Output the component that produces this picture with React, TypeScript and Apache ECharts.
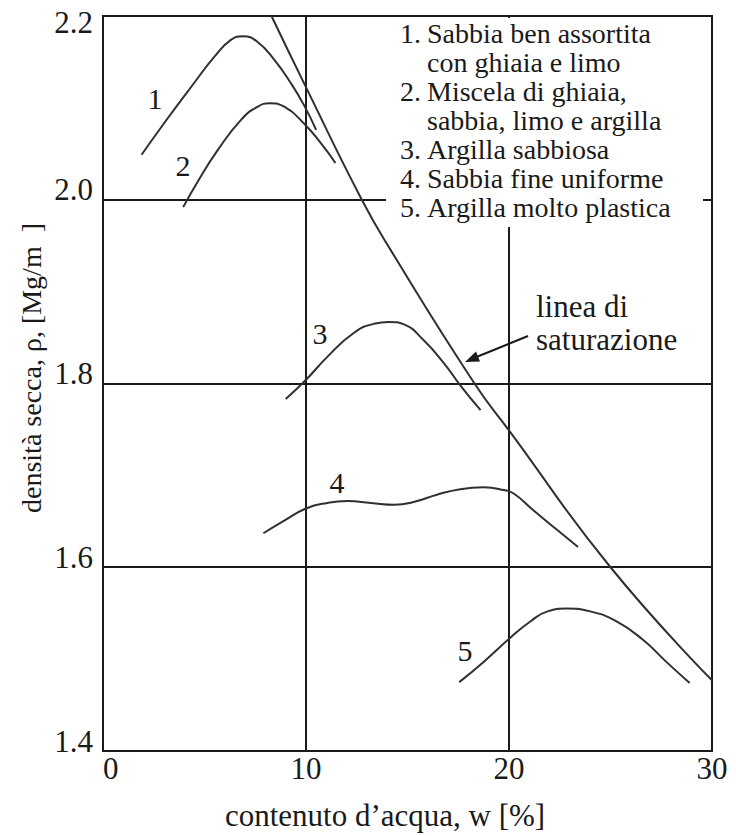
import React, { useEffect, useRef } from "react";
import * as echarts from "echarts";

// Compaction curves: water content w [%] and dry density ρd [Mg/m³]
const w1 = [1.9, 3.0, 4.35, 5.5, 6.3, 6.9, 7.6, 8.45, 9.25, 9.9, 10.5];
const rho1 = [2.049, 2.083, 2.123, 2.156, 2.174, 2.178, 2.172, 2.152, 2.127, 2.103, 2.076];

const w2 = [3.95, 4.7, 5.65, 6.8, 7.6, 8.2, 8.95, 9.9, 10.75, 11.45];
const rho2 = [1.992, 2.021, 2.054, 2.087, 2.101, 2.105, 2.101, 2.083, 2.061, 2.04];

const w3 = [9.0, 10.0, 11.05, 12.35, 13.35, 14.1, 14.85, 15.8, 16.8, 17.6, 18.6];
const rho3 = [1.783, 1.804, 1.829, 1.855, 1.865, 1.867, 1.864, 1.847, 1.822, 1.798, 1.771];

const w4 = [7.9, 8.95, 10.0, 11.05, 12.05, 13.2, 14.35, 15.3, 16.45, 17.6, 18.75, 19.75, 20.25, 21.2, 22.35, 23.4];
const rho4 = [1.637, 1.651, 1.664, 1.67, 1.672, 1.67, 1.668, 1.671, 1.679, 1.685, 1.687, 1.684, 1.68, 1.662, 1.641, 1.622];

const w5 = [17.55, 18.75, 20.05, 21.05, 21.9, 22.85, 24.0, 25.3, 26.6, 27.75, 28.9];
const rho5 = [1.475, 1.497, 1.523, 1.541, 1.552, 1.555, 1.552, 1.541, 1.521, 1.497, 1.474];

// Saturation line (zero air voids)
const wSat = [8.3, 9.9, 12.75, 14.15, 18.3, 20, 25, 30];
const rhoSat = [2.2, 2.127, 2.0, 1.946, 1.8, 1.749, 1.6, 1.477];

const xTicks = [0, 10, 20, 30];
const yTicks = [1.4, 1.6, 1.8, 2.0, 2.2];

const curveNumbers = ["1", "2", "3", "4", "5"];
const soilTypes = [
  ["Sabbia ben assortita", "con ghiaia e limo"],
  ["Miscela di ghiaia,", "sabbia, limo e argilla"],
  ["Argilla sabbiosa"],
  ["Sabbia fine uniforme"],
  ["Argilla molto plastica"],
];

const xTitle = "contenuto d’acqua, w [%]";
const yTitle = "densità secca, ρ, [Mg/m  ]";
const saturationLabel = "linea di\nsaturazione";

const FONT = "Liberation Serif";
const INK = "#1a1a1a";
const CURVE = "#303030";

const zip = (xs: number[], ys: number[]) => xs.map((x, i) => [x, ys[i]]);

const txt = (size: number, extra: Record<string, unknown> = {}) => ({
  fontSize: size,
  fontFamily: FONT,
  fill: INK,
  ...extra,
});

export default function App() {
  const ref = useRef<HTMLDivElement>(null);

  useEffect(() => {
    document.body.style.margin = "0";
    const chart = echarts.init(ref.current!, null, { renderer: "svg" });

    const curves = [
      zip(w1, rho1),
      zip(w2, rho2),
      zip(w3, rho3),
      zip(w4, rho4),
      zip(w5, rho5),
    ];

    // key: numbers in one column, descriptions (with continuation lines) in another
    const numberColumn: string[] = [];
    const textColumn: string[] = [];
    soilTypes.forEach((lines, i) => {
      lines.forEach((ln, j) => {
        numberColumn.push(j === 0 ? `${i + 1}.` : " ");
        textColumn.push(ln);
      });
    });

    const labelPos = [
      [155, 98],
      [183, 165],
      [320, 333],
      [337, 482],
      [465, 650],
    ];

    chart.setOption({
      animation: false,
      backgroundColor: "#ffffff",
      textStyle: { fontFamily: FONT },
      grid: {
        left: 103,
        right: 24,
        top: 16,
        bottom: 85,
        show: true,
        borderColor: INK,
        borderWidth: 2,
      },
      xAxis: {
        type: "value",
        min: xTicks[0],
        max: xTicks[xTicks.length - 1],
        interval: 10,
        axisLine: { show: true, lineStyle: { color: INK, width: 2 } },
        axisTick: { show: false },
        splitLine: { show: true, lineStyle: { color: INK, width: 2 } },
        axisLabel: {
          color: INK,
          fontFamily: FONT,
          fontSize: 31,
          margin: 2,
          alignMinLabel: "left",
          formatter: (v: number) => String(v),
        },
      },
      yAxis: {
        type: "value",
        min: yTicks[0],
        max: yTicks[yTicks.length - 1],
        interval: 0.2,
        axisLine: { show: true, lineStyle: { color: INK, width: 2 } },
        axisTick: { show: false },
        splitLine: { show: true, lineStyle: { color: INK, width: 2 } },
        axisLabel: {
          color: INK,
          fontFamily: FONT,
          fontSize: 31,
          margin: 10,
          formatter: (v: number) =>
            Math.abs(v - 2.2) < 1e-6 ? `{t|${v.toFixed(1)}}` : `{n|${v.toFixed(1)}}`,
          rich: {
            t: { fontSize: 31, fontFamily: FONT, color: INK, padding: [13, 0, 0, 0] },
            n: { fontSize: 31, fontFamily: FONT, color: INK, padding: [0, 0, 20, 0] },
          },
        },
      },
      series: [
        ...curves.map((data) => ({
          type: "line",
          data,
          smooth: 0.5,
          showSymbol: false,
          symbol: "none",
          lineStyle: { color: CURVE, width: 2 },
          z: 3,
        })),
        {
          type: "line",
          data: zip(wSat, rhoSat),
          smooth: 0.5,
          showSymbol: false,
          symbol: "none",
          lineStyle: { color: CURVE, width: 2 },
          z: 3,
        },
      ],
      graphic: [
        // white panel behind the soil type key
        {
          type: "rect",
          shape: { x: 386, y: 18, width: 317, height: 209 },
          style: { fill: "#ffffff" },
          z: 10,
        },
        {
          type: "text",
          x: 400,
          y: 19,
          z: 11,
          style: txt(28, { text: numberColumn.join("\n"), lineHeight: 29 }),
        },
        {
          type: "text",
          x: 427,
          y: 19,
          z: 11,
          style: txt(28, { text: textColumn.join("\n"), lineHeight: 29 }),
        },
        ...curveNumbers.map((n, i) => ({
          type: "text",
          x: labelPos[i][0],
          y: labelPos[i][1],
          z: 11,
          style: txt(30, { text: n, align: "center", verticalAlign: "middle" }),
        })),
        {
          type: "text",
          x: 536,
          y: 290,
          z: 11,
          style: txt(31, { text: saturationLabel, lineHeight: 33 }),
        },
        // arrow pointing at the saturation line
        {
          type: "line",
          z: 11,
          shape: { x1: 528, y1: 336, x2: 474, y2: 358 },
          style: { stroke: INK, lineWidth: 2 },
        },
        {
          type: "polygon",
          z: 11,
          shape: {
            points: [
              [465, 362],
              [480, 361.5],
              [476, 351.5],
            ],
          },
          style: { fill: INK },
        },
        {
          type: "text",
          x: 385,
          y: 815,
          z: 11,
          style: txt(31, { text: xTitle, align: "center", verticalAlign: "middle" }),
        },
        {
          type: "text",
          x: 31,
          y: 368,
          rotation: Math.PI / 2,
          z: 11,
          style: txt(28, { text: yTitle, align: "center", verticalAlign: "middle" }),
        },
      ],
    });

    return () => chart.dispose();
  }, []);

  return <div ref={ref} style={{ width: 736, height: 836 }} />;
}
